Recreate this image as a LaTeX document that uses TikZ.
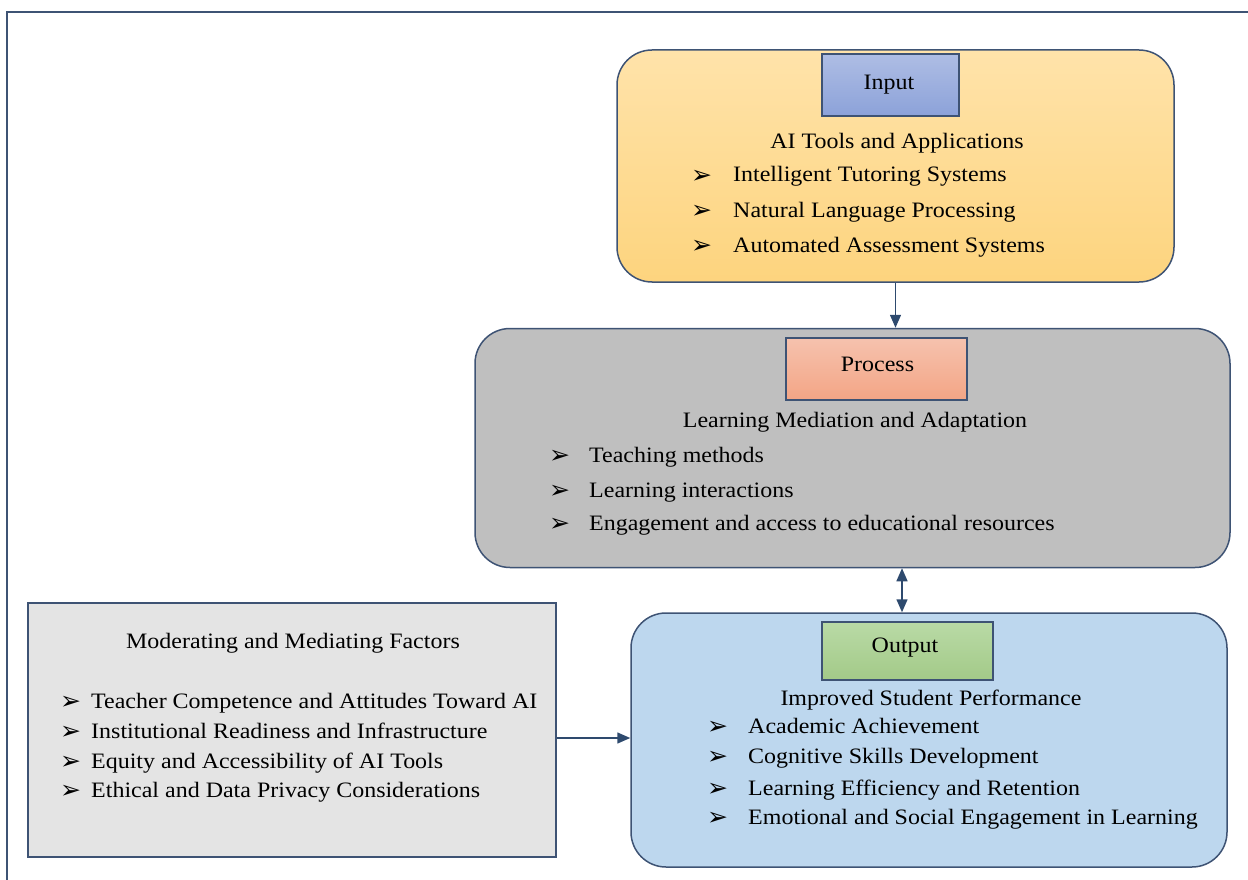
\documentclass[tikz,border=0pt]{standalone}
\usepackage{fontspec}
\setmainfont{Liberation Serif}[FakeStretch=1.09]
\newfontfamily\bulletfont{DejaVu Sans}
\usetikzlibrary{arrows.meta}
\definecolor{edgec}{HTML}{3E5374}
\definecolor{arrc}{HTML}{2E4A6E}
\definecolor{inTop}{HTML}{FFE3AA}
\definecolor{inBot}{HTML}{FDD47E}
\definecolor{procFill}{HTML}{BFBFBF}
\definecolor{outFill}{HTML}{BDD7EE}
\definecolor{modFill}{HTML}{E4E4E4}
\definecolor{lblInTop}{HTML}{AEBDE4}
\definecolor{lblInBot}{HTML}{8CA2D9}
\definecolor{lblPrTop}{HTML}{F6C2AE}
\definecolor{lblPrBot}{HTML}{F3A585}
\definecolor{lblOuTop}{HTML}{B9DAA6}
\definecolor{lblOuBot}{HTML}{A3CA88}
\newcommand{\bul}[1]{\makebox[#1][l]{\raisebox{-1.5pt}{\bulletfont\fontsize{25}{25}\selectfont ➢}}}
\tikzset{
  bigbox/.style={draw=edgec, line width=1.5pt, rounded corners=35pt, inner sep=0pt},
  flatbox/.style={draw=edgec, line width=1.5pt, inner sep=0pt},
  lblbox/.style={draw=edgec, line width=1.2pt, inner sep=0pt, font=\fontsize{22}{26}\selectfont},
  item/.style={inner sep=0pt, anchor=base west, font=\fontsize{22}{26}\selectfont},
  head/.style={inner sep=0pt, anchor=base, font=\fontsize{22}{26}\selectfont},
  arr/.style={draw=arrc, line width=1.5pt, -{Triangle[length=13pt,width=11pt]}},
  arrboth/.style={draw=arrc, line width=1.5pt, {Triangle[length=13pt,width=11pt]}-{Triangle[length=13pt,width=11pt]}},
}
\begin{document}
\begin{tikzpicture}[x=1pt,y=-1pt]
\useasboundingbox (0,0) rectangle (1248,880);
% outer frame
\draw[draw=edgec, line width=2pt] (7,880) -- (7,12) -- (1248,12);

% Input
\node[bigbox, top color=inTop, bottom color=inBot, minimum width=557pt, minimum height=232pt] (inbox) at (895.5,166) {};
\node[lblbox, top color=lblInTop, bottom color=lblInBot, minimum width=137pt, minimum height=62pt] (inlbl) at (890.5,85) {};
\node[head] (inlbltxt) at (889,90) {Input};
\node[head] (inhead) at (897,149) {AI Tools and Applications};
\node[item] (in1) at (691,182) {\bul{42pt}Intelligent Tutoring Systems};
\node[item] (in2) at (691,217) {\bul{42pt}Natural Language Processing};
\node[item] (in3) at (691,252) {\bul{42pt}Automated Assessment Systems};

% Process
\node[bigbox, fill=procFill, minimum width=755pt, minimum height=239pt] (prbox) at (852.5,448) {};
\node[lblbox, top color=lblPrTop, bottom color=lblPrBot, minimum width=181pt, minimum height=62pt] (prlbl) at (876.5,369) {};
\node[head] (prlbltxt) at (877.5,371) {Process};
\node[head] (prhead) at (855,427) {Learning Mediation and Adaptation};
\node[item] (pr1) at (549,462) {\bul{40pt}Teaching methods};
\node[item] (pr2) at (549,497) {\bul{40pt}Learning interactions};
\node[item] (pr3) at (549,530) {\bul{40pt}Engagement and access to educational resources};

% Output
\node[bigbox, fill=outFill, minimum width=596pt, minimum height=254pt] (oubox) at (929,740) {};
\node[lblbox, top color=lblOuTop, bottom color=lblOuBot, minimum width=171pt, minimum height=58pt] (oulbl) at (907.5,651) {};
\node[head] (oulbltxt) at (905,652) {Output};
\node[head] (ouhead) at (931,705) {Improved Student Performance};
\node[item] (ou1) at (707,733) {\bul{41pt}Academic Achievement};
\node[item] (ou2) at (707,763) {\bul{41pt}Cognitive Skills Development};
\node[item] (ou3) at (707,795) {\bul{41pt}Learning Efficiency and Retention};
\node[item] (ou4) at (707,824) {\bul{41pt}Emotional and Social Engagement in Learning};

% Moderating
\node[flatbox, fill=modFill, minimum width=528pt, minimum height=254pt] (mdbox) at (292,730) {};
\node[head] (mdhead) at (293,648) {Moderating and Mediating Factors};
\node[item] (md1) at (60,708) {\bul{31pt}Teacher Competence and Attitudes Toward AI};
\node[item] (md2) at (60,738) {\bul{31pt}Institutional Readiness and Infrastructure};
\node[item] (md3) at (60,768) {\bul{31pt}Equity and Accessibility of AI Tools};
\node[item] (md4) at (60,797) {\bul{31pt}Ethical and Data Privacy Considerations};

% connectors
\coordinate (xa) at (902,0);
\coordinate (ya) at (0,738);
\draw[arr] (inbox.south) -- (inbox.south |- prbox.north);
\draw[arrboth] (prbox.south -| xa) -- (oubox.north -| xa);
\draw[arr] (mdbox.east |- ya) -- (oubox.west |- ya);
\end{tikzpicture}
\end{document}
